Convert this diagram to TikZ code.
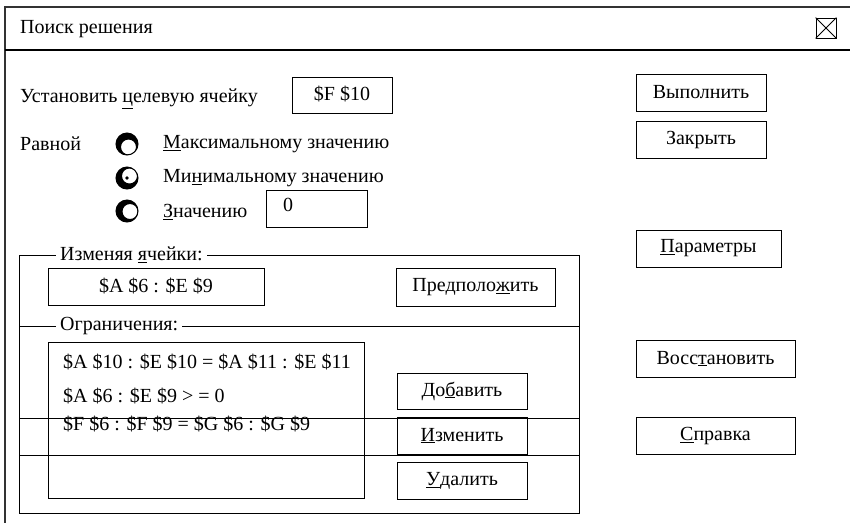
\documentclass[tikz,border=0pt]{standalone}
\usepackage{fontspec}
\setmainfont{Liberation Serif}
\usetikzlibrary{positioning,calc}

\begin{document}
\begin{tikzpicture}[x=1pt, y=-1pt]
    \tikzstyle{txt} = [inner sep=0pt, anchor=west, font=\fontsize{20}{24}\selectfont]
    \tikzstyle{btn} = [draw, line width=0.9pt, minimum width=130pt, minimum height=37pt, inner sep=0pt, font=\fontsize{20}{24}\selectfont]
    \tikzstyle{field} = [btn, minimum height=36pt]
    \tikzstyle{grp} = [txt, fill=white, inner xsep=4pt]
    \tikzstyle{radio} = [circle, minimum size=22pt, inner sep=0pt]
    \tikzstyle{frameline} = [line width=1.3pt, black!80]

    \useasboundingbox (0,0) rectangle (850,523);

    % window frame and title bar
    \coordinate (tl) at (5,7);
    \coordinate (tr) at (850,7);
    \coordinate (bl) at (5,523);
    \coordinate (sl) at (5,50);
    \coordinate (sr) at (850,50);
    \draw[frameline] (tr) -- (tl) -- (bl);
    \draw[line width=1.1pt] (sl) -- (sr);
    \node[txt] (title) at (20,29) {Поиск решения};
    \node[draw, line width=0.9pt, minimum size=20pt, inner sep=0pt] (close) at (826,28) {};
    \draw[line width=0.8pt] (close.north west) -- (close.south east) (close.north east) -- (close.south west);

    % target cell
    \node[txt] (target) at (20,99) {Установить \underline{ц}елевую ячейку};
    \node[field, minimum width=100pt] (tcell) at (342,95) {\raisebox{3pt}{\$F \$10}};

    % radio buttons
    \node[txt] (equal) at (20,144) {Равной};
    \node[radio] (rmax) at (127,144) {};
    \node[radio] (rmin) at (127,178) {};
    \node[radio] (rval) at (127,211) {};
    \fill[even odd rule] (rmax.center) circle (11pt) ++(1.5,3) circle (7.5pt);
    \fill[even odd rule] (rmin.center) circle (11pt) ++(2.5,-2) circle (7.5pt);
    \fill (rmin.center) circle (1.8pt);
    \fill[even odd rule] (rval.center) circle (11pt) ++(3,0.5) circle (7.5pt);
    \foreach \r in {rmax,rmin,rval}
        \draw[line width=1pt] (\r.center) circle (11pt);
    \node[txt] (lmax) at (163,144) {\underline{М}аксимальному значению};
    \node[txt] (lmin) at (163,178) {Ми\underline{н}имальному значению};
    \node[txt] (lval) at (163,212) {\underline{З}начению};
    \node[field, minimum width=101pt, minimum height=37pt] (vcell) at (316.5,208.5) {};
    \node[txt] (zero) at (283,205) {0};

    % right column
    \node[btn] (run) at (701,93) {\raisebox{2pt}{Выполнить}};
    \node[btn] (closebtn) at (701,139.5) {\raisebox{2pt}{Закрыть}};
    \node[btn, minimum width=145pt] (params) at (708.5,248.5) {\raisebox{2pt}{\underline{П}араметры}};
    \node[btn, minimum width=159pt] (restore) at (715.5,358.5) {\raisebox{2pt}{Восс\underline{т}ановить}};
    \node[btn, minimum width=159pt] (help) at (715.5,436) {\raisebox{2pt}{\underline{С}правка}};

    % changing cells group
    \coordinate (g1) at (19,255);
    \coordinate (g2) at (579,513);
    \draw[line width=1pt] (g1) rectangle (g2);
    \draw[line width=1pt] (19,326) -- (579,326);
    \node[grp] (chg) at (56,255) {Изменяя \underline{я}чейки:};
    \node[grp] (cons) at (56,326) {Ограничения:};
    \node[field, minimum width=216pt, minimum height=37pt] (cells) at (156,286.5) {\raisebox{2pt}{\$A \$6 : \$E \$9}};
    \node[btn, minimum width=159pt, minimum height=38pt] (guess) at (475.5,287) {\raisebox{2pt}{Предполо\underline{ж}ить}};

    % constraints list
    \node[draw, line width=1pt, minimum width=316pt, minimum height=156pt, inner sep=0pt] (list) at (206,420) {};
    \node[txt] (c1) at (63,362) {\$A \$10 : \$E \$10 = \$A \$11 : \$E \$11};
    \node[txt] (c2) at (63,396) {\$A \$6 : \$E \$9 > = 0};
    \node[txt] (c3) at (63,424) {\$F \$6 : \$F \$9 = \$G \$6 : \$G \$9};
    \node[btn, minimum height=36pt] (add) at (462,391) {\raisebox{2pt}{До\underline{б}авить}};
    \node[btn] (edit) at (462,435.5) {\raisebox{2pt}{\underline{И}зменить}};
    \node[btn] (del) at (462,480.5) {\raisebox{2pt}{\underline{У}далить}};
    \draw[line width=1pt] (19,418) -- (579,418);
    \draw[line width=1pt] (19,455) -- (579,455);
\end{tikzpicture}
\end{document}
